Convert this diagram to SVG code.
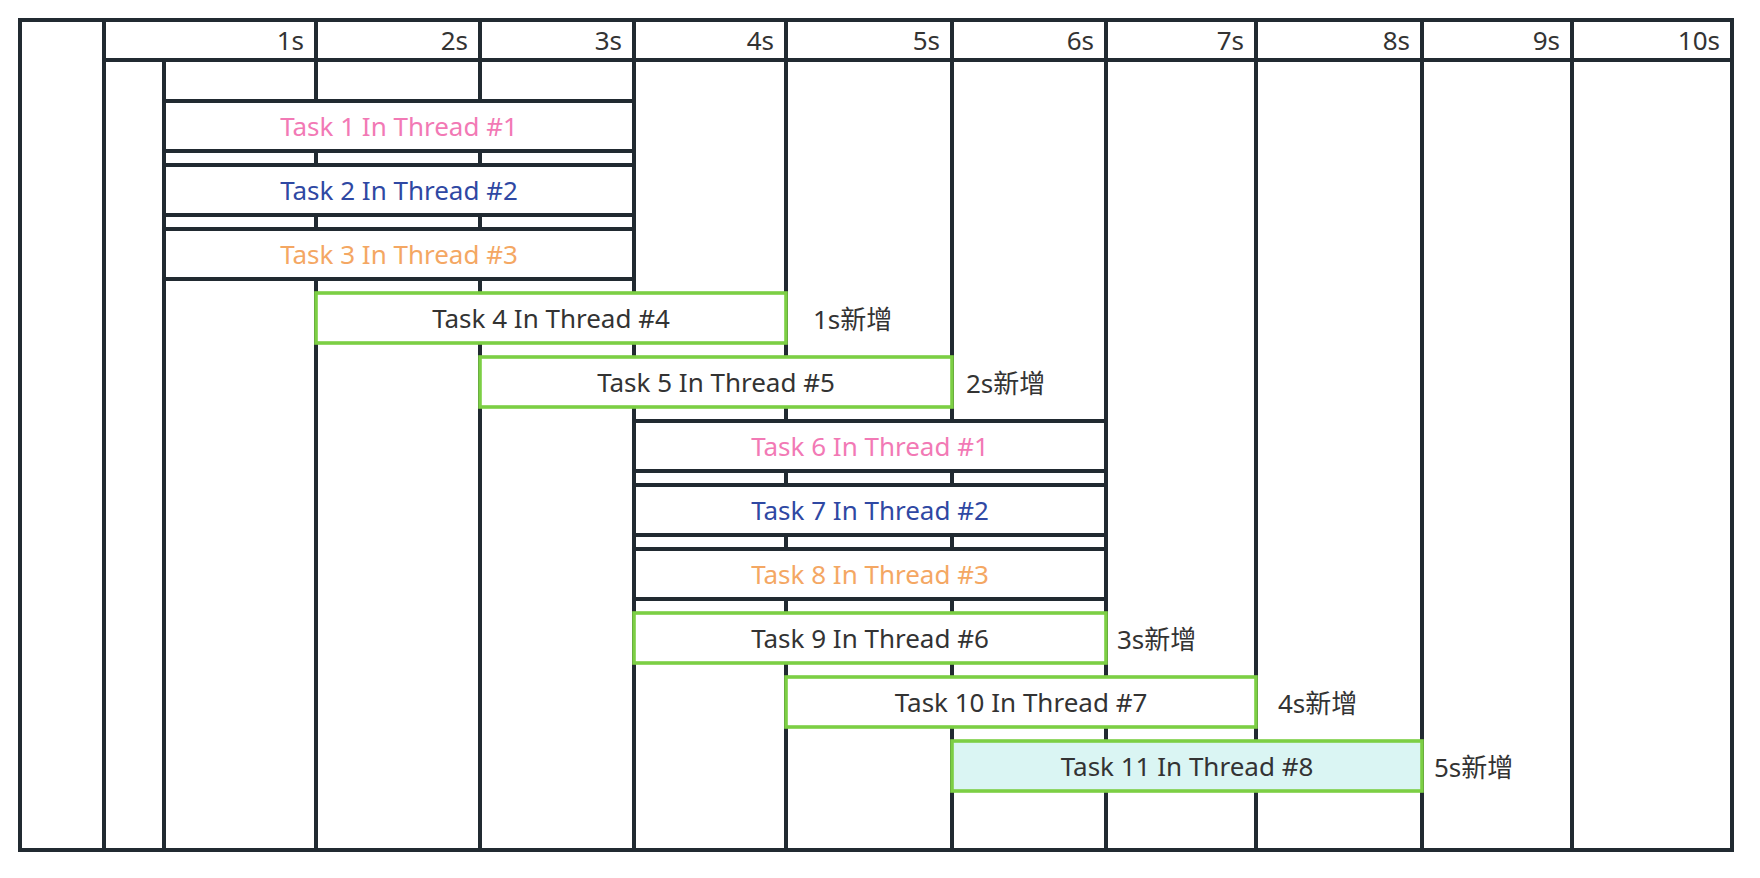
<svg xmlns="http://www.w3.org/2000/svg" width="1760" height="878" viewBox="0 0 1760 878">
<style>
  .grid { stroke: #212a31; stroke-width: 4; fill: none; }
  .box { fill: #ffffff; stroke: #212a31; stroke-width: 4; }
  .newbox { fill: #ffffff; stroke: #7ccf44; stroke-width: 3.6; }
  .newbox.hl { fill: #daf5f3; }
  text { font-family: "Noto Sans", "Noto Sans CJK SC", sans-serif; font-size: 26px; fill: #333333; }
  .hdr { text-anchor: end; }
  .lbl { text-anchor: middle; }
  .pink { fill: #f279b5; }
  .blue { fill: #2f48a3; }
  .orange { fill: #f4a763; }
</style>
<rect width="1760" height="878" fill="#ffffff"/>
<g id="grid">
  <line class="grid" x1="104" y1="20" x2="104" y2="850"/>
  <line class="grid" x1="164" y1="60" x2="164" y2="850"/>
  <line class="grid" x1="316" y1="20" x2="316" y2="850"/>
  <line class="grid" x1="480" y1="20" x2="480" y2="850"/>
  <line class="grid" x1="634" y1="20" x2="634" y2="850"/>
  <line class="grid" x1="786" y1="20" x2="786" y2="850"/>
  <line class="grid" x1="952" y1="20" x2="952" y2="850"/>
  <line class="grid" x1="1106" y1="20" x2="1106" y2="850"/>
  <line class="grid" x1="1256" y1="20" x2="1256" y2="850"/>
  <line class="grid" x1="1422" y1="20" x2="1422" y2="850"/>
  <line class="grid" x1="1572" y1="20" x2="1572" y2="850"/>
  <line class="grid" x1="104" y1="60" x2="1732" y2="60"/>
  <rect class="grid" x="20" y="20" width="1712" height="830"/>
</g>
<g id="header">
  <text class="hdr" x="304" y="50">1s</text>
  <text class="hdr" x="468" y="50">2s</text>
  <text class="hdr" x="622" y="50">3s</text>
  <text class="hdr" x="774" y="50">4s</text>
  <text class="hdr" x="940" y="50">5s</text>
  <text class="hdr" x="1094" y="50">6s</text>
  <text class="hdr" x="1244" y="50">7s</text>
  <text class="hdr" x="1410" y="50">8s</text>
  <text class="hdr" x="1560" y="50">9s</text>
  <text class="hdr" x="1720" y="50">10s</text>
</g>
<g id="task1">
  <rect class="box" x="164" y="101" width="470" height="50"/>
  <text class="lbl pink" x="399" y="136">Task 1 In Thread #1</text>
</g>
<g id="task2">
  <rect class="box" x="164" y="165" width="470" height="50"/>
  <text class="lbl blue" x="399" y="200">Task 2 In Thread #2</text>
</g>
<g id="task3">
  <rect class="box" x="164" y="229" width="470" height="50"/>
  <text class="lbl orange" x="399" y="264">Task 3 In Thread #3</text>
</g>
<g id="task4">
  <rect class="newbox" x="316" y="293" width="470" height="50"/>
  <text class="lbl" x="551" y="328">Task 4 In Thread #4</text>
  <text x="813" y="329">1s新增</text>
</g>
<g id="task5">
  <rect class="newbox" x="480" y="357" width="472" height="50"/>
  <text class="lbl" x="716" y="392">Task 5 In Thread #5</text>
  <text x="966" y="393">2s新增</text>
</g>
<g id="task6">
  <rect class="box" x="634" y="421" width="472" height="50"/>
  <text class="lbl pink" x="870" y="456">Task 6 In Thread #1</text>
</g>
<g id="task7">
  <rect class="box" x="634" y="485" width="472" height="50"/>
  <text class="lbl blue" x="870" y="520">Task 7 In Thread #2</text>
</g>
<g id="task8">
  <rect class="box" x="634" y="549" width="472" height="50"/>
  <text class="lbl orange" x="870" y="584">Task 8 In Thread #3</text>
</g>
<g id="task9">
  <rect class="newbox" x="634" y="613" width="472" height="50"/>
  <text class="lbl" x="870" y="648">Task 9 In Thread #6</text>
  <text x="1117" y="649">3s新增</text>
</g>
<g id="task10">
  <rect class="newbox" x="786" y="677" width="470" height="50"/>
  <text class="lbl" x="1021" y="712">Task 10 In Thread #7</text>
  <text x="1278" y="713">4s新增</text>
</g>
<g id="task11">
  <rect class="newbox hl" x="952" y="741" width="470" height="50"/>
  <text class="lbl" x="1187" y="776">Task 11 In Thread #8</text>
  <text x="1434" y="777">5s新增</text>
</g>
<g id="connectors"/>
</svg>
